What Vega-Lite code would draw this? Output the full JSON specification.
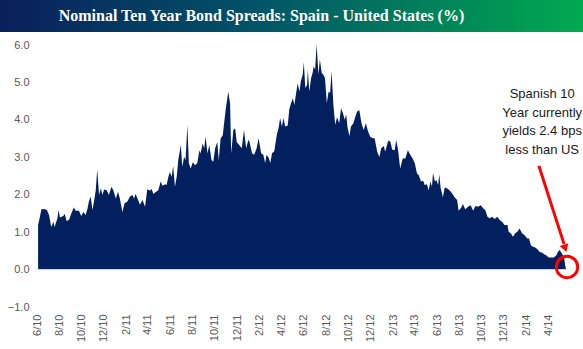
{
  "$schema": "https://vega.github.io/schema/vega-lite/v6.json",
  "padding": 0,
  "background": "white",
  "config": {"view": {"stroke": null}, "font": "Liberation Sans", "axis": {"labelOverlap": false, "labelSeparation": 0, "tickCount": 40}},
  "spacing": 7,
  "vconcat": [
    {
      "width": 583,
      "height": 32,
      "view": {
        "stroke": null,
        "fill": {
          "gradient": "linear", "x1": 0, "y1": 0, "x2": 1, "y2": 0,
          "stops": [
            {"offset": 0, "color": "#0a1f5c"},
            {"offset": 0.45, "color": "#005566"},
            {"offset": 1, "color": "#00aa50"}
          ]
        }
      },
      "data": {"values": [{"t": "Nominal Ten Year Bond Spreads: Spain - United States (%)"}]},
      "mark": {"type": "text", "font": "Liberation Serif", "fontWeight": "bold", "fontSize": 16, "color": "white", "align": "center", "baseline": "middle", "dx": -30},
      "encoding": {"text": {"field": "t"}}
    },
    {
      "width": 583,
      "height": 262,
      "layer": [
        {
          "data": {"values": [
            {"d":"2010-06-04","v":1.19},{"d":"2010-06-09","v":1.41},{"d":"2010-06-13","v":1.61},{"d":"2010-06-20","v":1.62},{"d":"2010-06-28","v":1.59},
            {"d":"2010-07-04","v":1.46},{"d":"2010-07-10","v":1.14},{"d":"2010-07-16","v":1.28},{"d":"2010-07-19","v":1.14},{"d":"2010-07-27","v":1.37},{"d":"2010-07-30","v":1.59},
            {"d":"2010-08-03","v":1.39},{"d":"2010-08-12","v":1.43},{"d":"2010-08-16","v":1.49},{"d":"2010-08-21","v":1.30},{"d":"2010-08-28","v":1.33},
            {"d":"2010-09-03","v":1.50},{"d":"2010-09-10","v":1.66},{"d":"2010-09-15","v":1.57},{"d":"2010-09-24","v":1.57},{"d":"2010-09-30","v":1.43},
            {"d":"2010-10-06","v":1.54},{"d":"2010-10-12","v":1.46},{"d":"2010-10-17","v":1.61},{"d":"2010-10-21","v":1.81},{"d":"2010-10-26","v":1.95},{"d":"2010-10-31","v":1.59},
            {"d":"2010-11-04","v":1.81},{"d":"2010-11-09","v":2.12},{"d":"2010-11-13","v":2.68},{"d":"2010-11-18","v":1.99},{"d":"2010-11-23","v":2.17},{"d":"2010-11-27","v":1.99},
            {"d":"2010-12-02","v":2.14},{"d":"2010-12-09","v":2.12},{"d":"2010-12-15","v":1.99},{"d":"2010-12-22","v":2.21},{"d":"2010-12-27","v":2.12},
            {"d":"2011-01-03","v":1.90},{"d":"2011-01-09","v":2.08},{"d":"2011-01-14","v":1.90},{"d":"2011-01-21","v":1.54},{"d":"2011-01-27","v":1.77},
            {"d":"2011-02-03","v":1.81},{"d":"2011-02-11","v":1.95},{"d":"2011-02-17","v":1.99},{"d":"2011-02-22","v":1.90},{"d":"2011-02-26","v":2.02},
            {"d":"2011-03-05","v":1.86},{"d":"2011-03-10","v":1.73},{"d":"2011-03-17","v":1.86},{"d":"2011-03-24","v":1.68},{"d":"2011-03-30","v":2.14},
            {"d":"2011-04-07","v":2.11},{"d":"2011-04-11","v":2.15},{"d":"2011-04-16","v":2.02},{"d":"2011-04-23","v":2.08},{"d":"2011-04-29","v":2.11},
            {"d":"2011-05-06","v":2.35},{"d":"2011-05-11","v":2.24},{"d":"2011-05-18","v":2.28},{"d":"2011-05-22","v":2.26},{"d":"2011-05-27","v":2.48},{"d":"2011-05-31","v":2.61},
            {"d":"2011-06-05","v":2.48},{"d":"2011-06-09","v":2.77},{"d":"2011-06-14","v":2.21},{"d":"2011-06-19","v":2.50},{"d":"2011-06-23","v":2.93},{"d":"2011-06-30","v":3.33},
            {"d":"2011-07-04","v":2.75},{"d":"2011-07-09","v":3.01},{"d":"2011-07-13","v":2.93},{"d":"2011-07-18","v":3.86},{"d":"2011-07-22","v":2.84},{"d":"2011-07-27","v":2.70},
            {"d":"2011-08-02","v":2.87},{"d":"2011-08-08","v":2.79},{"d":"2011-08-14","v":2.84},{"d":"2011-08-20","v":3.19},{"d":"2011-08-23","v":3.10},{"d":"2011-08-29","v":3.37},
            {"d":"2011-09-02","v":3.24},{"d":"2011-09-06","v":3.55},{"d":"2011-09-11","v":3.10},{"d":"2011-09-16","v":3.33},{"d":"2011-09-22","v":2.93},{"d":"2011-09-27","v":2.88},
            {"d":"2011-10-02","v":3.24},{"d":"2011-10-08","v":3.41},{"d":"2011-10-12","v":2.93},{"d":"2011-10-17","v":3.50},{"d":"2011-10-23","v":3.59},{"d":"2011-10-26","v":3.86},
            {"d":"2011-11-01","v":4.35},{"d":"2011-11-07","v":4.75},{"d":"2011-11-12","v":4.44},{"d":"2011-11-15","v":3.10},{"d":"2011-11-21","v":3.73},{"d":"2011-11-26","v":3.77},{"d":"2011-11-30","v":3.41},
            {"d":"2011-12-07","v":3.33},{"d":"2011-12-14","v":3.24},{"d":"2011-12-20","v":3.73},{"d":"2011-12-26","v":3.24},
            {"d":"2012-01-01","v":3.46},{"d":"2012-01-04","v":3.42},{"d":"2012-01-11","v":3.11},{"d":"2012-01-17","v":3.07},{"d":"2012-01-24","v":3.25},{"d":"2012-01-29","v":3.51},
            {"d":"2012-02-05","v":3.11},{"d":"2012-02-11","v":3.07},{"d":"2012-02-16","v":2.85},{"d":"2012-02-20","v":3.07},{"d":"2012-02-26","v":2.98},
            {"d":"2012-03-01","v":2.85},{"d":"2012-03-06","v":3.11},{"d":"2012-03-12","v":3.16},{"d":"2012-03-19","v":3.60},{"d":"2012-03-24","v":3.78},{"d":"2012-03-28","v":4.05},
            {"d":"2012-04-02","v":3.82},{"d":"2012-04-06","v":4.05},{"d":"2012-04-11","v":3.82},{"d":"2012-04-18","v":3.85},{"d":"2012-04-22","v":4.27},{"d":"2012-04-27","v":4.45},
            {"d":"2012-05-02","v":4.58},{"d":"2012-05-06","v":4.40},{"d":"2012-05-11","v":4.72},{"d":"2012-05-15","v":4.98},{"d":"2012-05-20","v":4.76},{"d":"2012-05-24","v":5.03},{"d":"2012-05-29","v":5.21},
            {"d":"2012-06-01","v":5.54},{"d":"2012-06-05","v":4.85},{"d":"2012-06-10","v":4.94},{"d":"2012-06-12","v":5.34},{"d":"2012-06-16","v":4.76},{"d":"2012-06-21","v":5.12},{"d":"2012-06-25","v":5.25},{"d":"2012-06-28","v":5.43},
            {"d":"2012-07-02","v":5.34},{"d":"2012-07-06","v":6.02},{"d":"2012-07-11","v":5.21},{"d":"2012-07-15","v":5.61},{"d":"2012-07-20","v":5.25},{"d":"2012-07-24","v":5.21},{"d":"2012-07-29","v":5.12},
            {"d":"2012-08-03","v":4.45},{"d":"2012-08-08","v":4.76},{"d":"2012-08-12","v":4.72},{"d":"2012-08-16","v":5.30},{"d":"2012-08-21","v":4.40},{"d":"2012-08-26","v":3.87},{"d":"2012-08-31","v":4.07},
            {"d":"2012-09-06","v":3.91},{"d":"2012-09-11","v":4.31},{"d":"2012-09-16","v":4.18},{"d":"2012-09-21","v":4.00},{"d":"2012-09-25","v":4.14},{"d":"2012-09-29","v":3.78},
            {"d":"2012-10-04","v":3.56},{"d":"2012-10-08","v":3.82},{"d":"2012-10-15","v":3.91},{"d":"2012-10-19","v":4.05},{"d":"2012-10-25","v":4.22},{"d":"2012-10-31","v":4.26},
            {"d":"2012-11-06","v":3.91},{"d":"2012-11-12","v":3.73},{"d":"2012-11-18","v":3.91},{"d":"2012-11-24","v":3.69},{"d":"2012-11-30","v":3.55},
            {"d":"2012-12-07","v":3.51},{"d":"2012-12-12","v":3.51},{"d":"2012-12-19","v":3.15},{"d":"2012-12-25","v":3.01},{"d":"2012-12-30","v":3.24},
            {"d":"2013-01-06","v":3.30},{"d":"2013-01-10","v":3.15},{"d":"2013-01-18","v":3.44},{"d":"2013-01-24","v":3.42},{"d":"2013-01-29","v":3.21},
            {"d":"2013-02-05","v":3.19},{"d":"2013-02-09","v":3.46},{"d":"2013-02-14","v":3.21},{"d":"2013-02-20","v":2.70},{"d":"2013-02-27","v":2.97},
            {"d":"2013-03-06","v":2.97},{"d":"2013-03-13","v":3.19},{"d":"2013-03-20","v":3.06},{"d":"2013-03-26","v":2.97},
            {"d":"2013-04-01","v":2.84},{"d":"2013-04-07","v":2.57},{"d":"2013-04-12","v":2.52},{"d":"2013-04-18","v":2.35},{"d":"2013-04-24","v":2.37},{"d":"2013-04-28","v":2.26},
            {"d":"2013-05-04","v":2.28},{"d":"2013-05-09","v":2.12},{"d":"2013-05-14","v":2.35},{"d":"2013-05-18","v":2.21},{"d":"2013-05-21","v":2.59},{"d":"2013-05-26","v":2.35},{"d":"2013-05-30","v":2.39},
            {"d":"2013-06-04","v":2.26},{"d":"2013-06-07","v":2.55},{"d":"2013-06-11","v":2.17},{"d":"2013-06-17","v":1.93},{"d":"2013-06-22","v":2.19},{"d":"2013-06-28","v":2.17},
            {"d":"2013-07-05","v":2.12},{"d":"2013-07-12","v":2.04},{"d":"2013-07-19","v":1.93},{"d":"2013-07-26","v":1.86},{"d":"2013-07-30","v":1.57},
            {"d":"2013-08-06","v":1.65},{"d":"2013-08-11","v":1.75},{"d":"2013-08-17","v":1.61},{"d":"2013-08-25","v":1.68},
            {"d":"2013-09-01","v":1.72},{"d":"2013-09-08","v":1.57},{"d":"2013-09-14","v":1.70},{"d":"2013-09-21","v":1.68},{"d":"2013-09-29","v":1.72},
            {"d":"2013-10-05","v":1.64},{"d":"2013-10-11","v":1.59},{"d":"2013-10-17","v":1.41},{"d":"2013-10-23","v":1.37},{"d":"2013-10-30","v":1.41},
            {"d":"2013-11-06","v":1.35},{"d":"2013-11-13","v":1.41},{"d":"2013-11-20","v":1.32},{"d":"2013-11-26","v":1.28},
            {"d":"2013-12-03","v":1.19},{"d":"2013-12-11","v":1.19},{"d":"2013-12-14","v":1.01},{"d":"2013-12-20","v":0.97},{"d":"2013-12-26","v":0.88},
            {"d":"2014-01-01","v":0.97},{"d":"2014-01-07","v":1.01},{"d":"2014-01-13","v":1.10},{"d":"2014-01-20","v":0.97},{"d":"2014-01-27","v":0.92},
            {"d":"2014-02-03","v":0.83},{"d":"2014-02-08","v":0.83},{"d":"2014-02-13","v":0.65},{"d":"2014-02-19","v":0.61},{"d":"2014-02-25","v":0.59},
            {"d":"2014-03-03","v":0.54},{"d":"2014-03-09","v":0.47},{"d":"2014-03-16","v":0.45},{"d":"2014-03-21","v":0.41},{"d":"2014-03-27","v":0.38},
            {"d":"2014-04-03","v":0.32},{"d":"2014-04-10","v":0.32},{"d":"2014-04-17","v":0.32},{"d":"2014-04-24","v":0.38},{"d":"2014-04-28","v":0.47},
            {"d":"2014-05-03","v":0.52},{"d":"2014-05-09","v":0.43},{"d":"2014-05-15","v":0.32},{"d":"2014-05-18","v":0.11},{"d":"2014-05-21","v":-0.024}
          ]},
          "mark": {"type": "area", "color": "#02205e", "interpolate": "linear"},
          "encoding": {
            "x": {
              "field": "d", "type": "temporal", "title": null,
              "scale": {"type": "utc", "range": [37, 567], "domain": [{"year": 2010, "month": 6, "date": 1, "utc": true}, {"year": 2014, "month": 5, "date": 23, "utc": true}]},
              "axis": {
                "values": [
                  {"year":2010,"month":6,"date":1,"utc":true},{"year":2010,"month":8,"date":1,"utc":true},{"year":2010,"month":10,"date":1,"utc":true},{"year":2010,"month":12,"date":1,"utc":true},
                  {"year":2011,"month":2,"date":1,"utc":true},{"year":2011,"month":4,"date":1,"utc":true},{"year":2011,"month":6,"date":1,"utc":true},{"year":2011,"month":8,"date":1,"utc":true},{"year":2011,"month":10,"date":1,"utc":true},{"year":2011,"month":12,"date":1,"utc":true},
                  {"year":2012,"month":2,"date":1,"utc":true},{"year":2012,"month":4,"date":1,"utc":true},{"year":2012,"month":6,"date":1,"utc":true},{"year":2012,"month":8,"date":1,"utc":true},{"year":2012,"month":10,"date":1,"utc":true},{"year":2012,"month":12,"date":1,"utc":true},
                  {"year":2013,"month":2,"date":1,"utc":true},{"year":2013,"month":4,"date":1,"utc":true},{"year":2013,"month":6,"date":1,"utc":true},{"year":2013,"month":8,"date":1,"utc":true},{"year":2013,"month":10,"date":1,"utc":true},{"year":2013,"month":12,"date":1,"utc":true},
                  {"year":2014,"month":2,"date":1,"utc":true},{"year":2014,"month":4,"date":1,"utc":true}
                ],
                "tickCount": 40,
                "format": "%-m/%y", "labelAngle": 270, "labelFontSize": 11, "labelColor": "#595959",
                "domain": false, "ticks": false, "grid": false, "labelPadding": 7,
                "labelOverlap": false, "labelFlush": false
              }
            },
            "y": {
              "field": "v", "type": "quantitative", "title": null,
              "scale": {"domain": [-1, 6], "nice": false, "zero": false},
              "axis": {
                "values": [-1, 0, 1, 2, 3, 4, 5, 6], "tickCount": 40, "format": ".1f",
                "labelFontSize": 11, "labelColor": "#595959", "labelPadding": 8, "offset": -37,
                "domain": false, "ticks": false, "grid": false, "labelOverlap": false
              }
            }
          }
        },
        {
          "data": {"values": [{"d": "2010-06-01", "d2": "2014-05-23", "v": 0}]},
          "mark": {"type": "rule", "color": "#d9d9d9", "strokeWidth": 1},
          "encoding": {
            "x": {"field": "d", "type": "temporal"},
            "x2": {"field": "d2"},
            "y": {"field": "v", "type": "quantitative"}
          }
        },
        {
          "data": {"values": [{"d": "2014-03-07", "v": 2.77, "d2": "2014-05-15", "v2": 0.68}]},
          "mark": {"type": "rule", "color": "#ff0000", "strokeWidth": 3},
          "encoding": {
            "x": {"field": "d", "type": "temporal"},
            "x2": {"field": "d2"},
            "y": {"field": "v", "type": "quantitative"},
            "y2": {"field": "v2"}
          }
        },
        {
          "data": {"values": [{"d": "2014-05-18", "v": 0.57}]},
          "mark": {"type": "point", "shape": "triangle-down", "filled": true, "color": "#ff0000", "size": 80, "angle": 342, "opacity": 1},
          "encoding": {
            "x": {"field": "d", "type": "temporal"},
            "y": {"field": "v", "type": "quantitative"}
          }
        },
        {
          "data": {"values": [{"d": "2014-05-23", "v": 0.07}]},
          "mark": {"type": "point", "shape": "circle", "filled": false, "stroke": "#ff0000", "strokeWidth": 3, "size": 460, "opacity": 1},
          "encoding": {
            "x": {"field": "d", "type": "temporal"},
            "y": {"field": "v", "type": "quantitative"}
          }
        },
        {
          "data": {"values": [{"d": "2014-03-16", "v": 4.69, "label": ["Spanish 10", "Year currently", "yields 2.4 bps", "less than US"]}]},
          "mark": {"type": "text", "fontSize": 13, "lineHeight": 18.5, "color": "#1a1a1a", "align": "center", "baseline": "middle"},
          "encoding": {
            "x": {"field": "d", "type": "temporal"},
            "y": {"field": "v", "type": "quantitative"},
            "text": {"field": "label"}
          }
        }
      ]
    }
  ]
}
